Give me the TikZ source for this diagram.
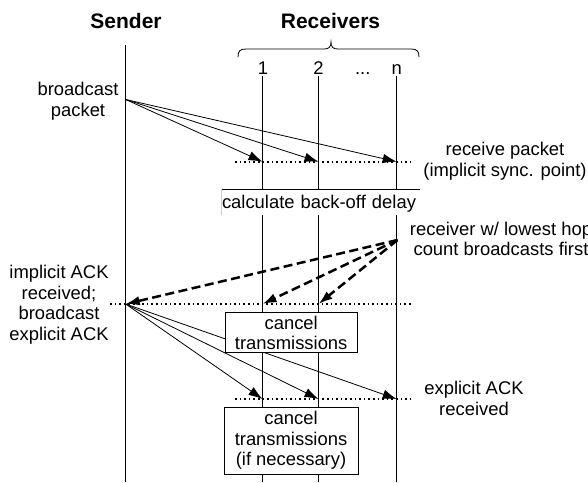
\documentclass[tikz,border=0pt]{standalone}
\usepackage{fontspec}
\setmainfont{Liberation Sans}
\usetikzlibrary{arrows.meta}
\begin{document}
\begin{tikzpicture}[x=1pt,y=-1pt,
  txt/.style={font=\fontsize{18.4}{20.5}\selectfont, inner sep=0pt, align=center},
  head/.style={font=\fontsize{21}{24}\selectfont\bfseries, inner sep=0pt},
  life/.style={line width=0.9pt},
  msg/.style={line width=0.8pt, -{Latex[length=14pt,width=9.5pt]}},
  reply/.style={line width=2.5pt, dash pattern=on 9pt off 4.5pt, -{Latex[length=14pt,width=9.5pt]}},
  sync/.style={line width=1.6pt, dash pattern=on 1.6pt off 3pt},
  procbox/.style={txt, draw, line width=0.9pt, fill=white}]
\useasboundingbox (0,0) rectangle (588,482);

% column headers
\node[head] (sender) at (126,21) {Sender};
\node[head] (recv) at (330.5,21) {Receivers};

% brace over the receivers
\draw[line width=0.8pt] (238,57) .. controls (238,51) and (240,49) .. (246,49) -- (324,49)
  .. controls (329,49) and (331,47) .. (331,42)
  .. controls (331,47) and (333,49) .. (338,49) -- (411,49)
  .. controls (417,49) and (419,51) .. (419,57);

% receiver numbers
\node[txt, anchor=base] (n1) at (263,74) {1};
\node[txt, anchor=base] (n2) at (318.5,74) {2};
\node[txt, anchor=base] (ndots) at (362.7,74) {...};
\node[txt, anchor=base] (nn) at (396.7,74) {n};

% lifelines
\coordinate (s0) at (125.7,45);  \coordinate (s1) at (125.7,482);
\coordinate (a0) at (262.5,76);  \coordinate (a1) at (262.5,482);
\coordinate (b0) at (318.5,76);  \coordinate (b1) at (318.5,482);
\coordinate (c0) at (396.7,76);  \coordinate (c1) at (396.7,482);
\draw[life] (s0) -- (s1);
\draw[life] (a0) -- (a1);
\draw[life] (b0) -- (b1);
\draw[life] (c0) -- (c1);

% event points
\coordinate (bp) at (125.7,99.5);
\coordinate (a-rx) at (262.5,161.7);
\coordinate (b-rx) at (318.5,161.7);
\coordinate (c-rx) at (396.7,161.7);
\coordinate (ack) at (125.7,304);
\coordinate (a-ack) at (262.5,304);
\coordinate (b-ack) at (318.5,304);
\coordinate (c-src) at (397.5,240);
\coordinate (a-ex) at (262.5,399);
\coordinate (b-ex) at (318.5,399);
\coordinate (c-ex) at (396.7,399);

% synchronisation lines
\coordinate (rx-l) at (235,161.7);  \coordinate (rx-r) at (412,161.7);
\coordinate (ack-l) at (110,304);   \coordinate (ack-r) at (413,304);
\coordinate (ex-l) at (235,399);    \coordinate (ex-r) at (413,399);
\draw[sync] (rx-l) -- (rx-r);
\draw[sync] (ack-l) -- (ack-r);
\draw[sync] (ex-l) -- (ex-r);

% broadcast packet
\draw[msg] (bp) -- (a-rx);
\draw[msg] (bp) -- (b-rx);
\draw[msg] (bp) -- (c-rx);

% back-off calculation
\node[txt, fill=white, text width=198pt, align=left, text height=18.8pt, text depth=6.7pt]
  (calc) at (321,202.25) {calculate back-off delay};
\draw[line width=0.9pt] (calc.north west) -- (calc.north east);
\draw[black!20, line width=0.8pt] (calc.north west) -- (calc.south west);

% explicit ACK broadcast
\draw[msg] (ack) -- (a-ex);
\draw[msg] (ack) -- (b-ex);
\draw[msg] (ack) -- (c-ex);

% processing boxes
\node[procbox, minimum width=132.5pt, minimum height=40pt] (cancel1) at (291.2,332.7)
  {cancel\\transmissions};
\node[procbox, minimum width=134pt, minimum height=66.7pt] (cancel2) at (291,440.7)
  {cancel\\transmissions\\(if necessary)};

% implicit ACK from the first receiver
\draw[reply] (c-src) -- (ack);
\draw[reply] (c-src) -- (a-ack);
\draw[reply] (c-src) -- (b-ack);

% annotations
\node[txt] (bcast) at (78,101.1) {broadcast\\packet};
\node[txt] (implack) at (59,304.5) {implicit ACK\\received;\\broadcast\\explicit ACK};
\node[txt] (rxlbl) at (505,161) {receive packet\\(implicit sync. point)};
\node[txt] (first) at (501,238.8) {receiver w/ lowest hop\\count broadcasts first};
\node[txt] (exlbl) at (474,398.5) {explicit ACK\\received};
\end{tikzpicture}
\end{document}
